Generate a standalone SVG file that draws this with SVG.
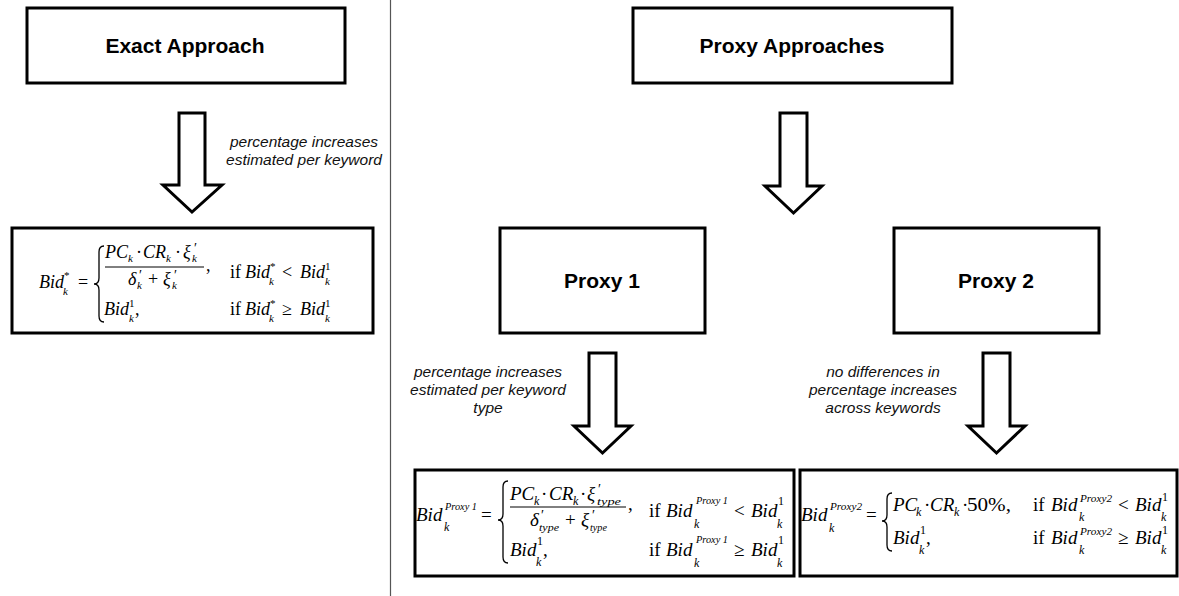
<svg xmlns="http://www.w3.org/2000/svg" width="1179" height="596" viewBox="0 0 1179 596">
  <style>
    .box { fill: #fff; stroke: #000; stroke-width: 3; }
    .arrow { fill: #fff; stroke: #000; stroke-width: 3; stroke-linejoin: miter; }
    .title { font-family: "Liberation Sans", Arial, sans-serif; font-weight: bold; font-size: 21px; text-anchor: middle; fill: #000; }
    .note { font-family: "Liberation Sans", Arial, sans-serif; font-style: italic; font-size: 15.5px; text-anchor: middle; fill: #111; }
    .m { font-family: "Liberation Serif", "Times New Roman", serif; font-size: 18px; fill: #000; }
    .m2 { font-family: "Liberation Serif", "Times New Roman", serif; font-size: 19px; fill: #000; }
    .i { font-style: italic; }
    .s { font-size: 11px; }
    .s2 { font-size: 12px; }
    .pr { font-size: 14px; }
    .brace { fill: none; stroke: #000; stroke-width: 1.3; }
    .bar { stroke: #000; stroke-width: 1; }
  </style>

  <!-- divider between the exact and proxy approaches -->
  <line x1="390.5" y1="0" x2="390.5" y2="596" stroke="#555" stroke-width="1.2"/>

  <g id="exact-approach">
    <rect class="box" x="27" y="8" width="318" height="75"/>
    <text class="title" x="185" y="53">Exact Approach</text>
  </g>

  <g id="proxy-approaches">
    <rect class="box" x="633" y="8" width="319" height="75"/>
    <text class="title" x="792" y="53">Proxy Approaches</text>
  </g>

  <g id="proxy-1">
    <rect class="box" x="500" y="228" width="205" height="105"/>
    <text class="title" x="602" y="288">Proxy 1</text>
  </g>

  <g id="proxy-2">
    <rect class="box" x="894" y="228" width="205" height="105"/>
    <text class="title" x="996" y="288">Proxy 2</text>
  </g>

  <!-- exact bid formula -->
  <g id="formula-exact">
    <rect class="box" x="12" y="228" width="361" height="105"/>
    <text class="m i" x="39" y="288">Bid</text>
    <text class="m s" x="64" y="279">*</text>
    <text class="m s i" x="63" y="295">k</text>
    <text class="m" x="78" y="288">=</text>
    <path class="brace" d="M104 246 Q99 246 99 252 L99 278 Q99 284 94 284 Q99 284 99 290 L99 316 Q99 322 104 322"/>
    <!-- numerator -->
    <text class="m i" x="105" y="258">PC</text>
    <text class="m s i" x="128" y="262">k</text>
    <text class="m" x="136" y="258">·</text>
    <text class="m i" x="143" y="258">CR</text>
    <text class="m s i" x="166" y="262">k</text>
    <text class="m" x="175" y="258">·</text>
    <text class="m i" x="183" y="258">ξ</text>
    <text class="m pr" x="194" y="253">′</text>
    <text class="m s i" x="192" y="262">k</text>
    <line class="bar" x1="105" y1="267" x2="204" y2="267"/>
    <!-- denominator -->
    <text class="m i" x="128" y="285">δ</text>
    <text class="m pr" x="139" y="280">′</text>
    <text class="m s i" x="137" y="289">k</text>
    <text class="m" x="148" y="285">+</text>
    <text class="m i" x="163" y="285">ξ</text>
    <text class="m pr" x="174" y="280">′</text>
    <text class="m s i" x="172" y="289">k</text>
    <text class="m" x="206" y="271">,</text>
    <!-- first case condition -->
    <text class="m" x="230" y="278">if</text>
    <text class="m i" x="245" y="278">Bid</text>
    <text class="m s" x="270" y="270">*</text>
    <text class="m s i" x="269" y="285">k</text>
    <text class="m" x="282" y="278">&lt;</text>
    <text class="m i" x="300" y="278">Bid</text>
    <text class="m s" x="325" y="270">1</text>
    <text class="m s i" x="325" y="285">k</text>
    <!-- second case -->
    <text class="m i" x="104" y="315">Bid</text>
    <text class="m s" x="129" y="307">1</text>
    <text class="m s i" x="129" y="322">k</text>
    <text class="m" x="135" y="315">,</text>
    <text class="m" x="230" y="315">if</text>
    <text class="m i" x="245" y="315">Bid</text>
    <text class="m s" x="270" y="307">*</text>
    <text class="m s i" x="269" y="322">k</text>
    <text class="m" x="282" y="315">≥</text>
    <text class="m i" x="300" y="315">Bid</text>
    <text class="m s" x="325" y="307">1</text>
    <text class="m s i" x="325" y="322">k</text>
  </g>

  <!-- proxy 1 bid formula -->
  <g id="formula-proxy-1">
    <rect class="box" x="415" y="470" width="379" height="106"/>
    <text class="m2 i" x="416" y="521">Bid</text>
    <text class="m s i" x="445" y="510" textLength="32" lengthAdjust="spacingAndGlyphs">Proxy 1</text>
    <text class="m s2 i" x="444" y="531">k</text>
    <text class="m2" x="481" y="521">=</text>
    <path class="brace" d="M508 481 Q503 481 503 487 L503 514 Q503 520 498 520 Q503 520 503 526 L503 557 Q503 563 508 563"/>
    <!-- numerator -->
    <text class="m2 i" x="510" y="500">PC</text>
    <text class="m s2 i" x="534" y="505">k</text>
    <text class="m2" x="541" y="500">·</text>
    <text class="m2 i" x="549" y="500">CR</text>
    <text class="m s2 i" x="573" y="505">k</text>
    <text class="m2" x="580" y="500">·</text>
    <text class="m2 i" x="587" y="500">ξ</text>
    <text class="m pr" x="598" y="494">′</text>
    <text class="m s i" x="597" y="505" textLength="24" lengthAdjust="spacingAndGlyphs">type</text>
    <line class="bar" x1="510" y1="507" x2="626" y2="507"/>
    <!-- denominator -->
    <text class="m2 i" x="530" y="526">δ</text>
    <text class="m pr" x="541" y="520">′</text>
    <text class="m s i" x="539" y="531" textLength="20" lengthAdjust="spacingAndGlyphs">type</text>
    <text class="m2" x="565" y="526">+</text>
    <text class="m2 i" x="581" y="526">ξ</text>
    <text class="m pr" x="592" y="520">′</text>
    <text class="m s i" x="590" y="531" textLength="17" lengthAdjust="spacingAndGlyphs">type</text>
    <text class="m2" x="628" y="510">,</text>
    <!-- first case condition -->
    <text class="m2" x="649" y="517">if</text>
    <text class="m2 i" x="666" y="517">Bid</text>
    <text class="m s i" x="696" y="504" textLength="32" lengthAdjust="spacingAndGlyphs">Proxy 1</text>
    <text class="m s2 i" x="694" y="528">k</text>
    <text class="m2" x="734" y="517">&lt;</text>
    <text class="m2 i" x="751" y="517">Bid</text>
    <text class="m s2" x="778" y="505">1</text>
    <text class="m s2 i" x="777" y="528">k</text>
    <!-- second case -->
    <text class="m2 i" x="510" y="556">Bid</text>
    <text class="m s2" x="537" y="545">1</text>
    <text class="m s2 i" x="536" y="566">k</text>
    <text class="m2" x="543" y="556">,</text>
    <text class="m2" x="649" y="556">if</text>
    <text class="m2 i" x="666" y="556">Bid</text>
    <text class="m s i" x="696" y="543" textLength="32" lengthAdjust="spacingAndGlyphs">Proxy 1</text>
    <text class="m s2 i" x="694" y="567">k</text>
    <text class="m2" x="734" y="556">≥</text>
    <text class="m2 i" x="751" y="556">Bid</text>
    <text class="m s2" x="778" y="544">1</text>
    <text class="m s2 i" x="777" y="567">k</text>
  </g>

  <!-- proxy 2 bid formula -->
  <g id="formula-proxy-2">
    <rect class="box" x="800" y="470" width="377" height="106"/>
    <text class="m2 i" x="801" y="521">Bid</text>
    <text class="m s i" x="830" y="510" textLength="32" lengthAdjust="spacingAndGlyphs">Proxy2</text>
    <text class="m s2 i" x="829" y="532">k</text>
    <text class="m2" x="866" y="521">=</text>
    <path class="brace" d="M892 493 Q887 493 887 499 L887 515 Q887 521 882 521 Q887 521 887 527 L887 545 Q887 551 892 551"/>
    <!-- first case -->
    <text class="m2 i" x="893" y="511">PC</text>
    <text class="m s2 i" x="916" y="516">k</text>
    <text class="m2" x="924" y="511">·</text>
    <text class="m2 i" x="930" y="511">CR</text>
    <text class="m s2 i" x="954" y="516">k</text>
    <text class="m2" x="962" y="511">·</text>
    <text class="m2" x="967" y="511" textLength="44" lengthAdjust="spacingAndGlyphs">50%,</text>
    <text class="m2" x="1033" y="511">if</text>
    <text class="m2 i" x="1051" y="511">Bid</text>
    <text class="m s i" x="1080" y="502" textLength="32" lengthAdjust="spacingAndGlyphs">Proxy2</text>
    <text class="m s2 i" x="1079" y="521">k</text>
    <text class="m2" x="1118" y="511">&lt;</text>
    <text class="m2 i" x="1135" y="511">Bid</text>
    <text class="m s2" x="1162" y="501">1</text>
    <text class="m s2 i" x="1161" y="521">k</text>
    <!-- second case -->
    <text class="m2 i" x="893" y="544">Bid</text>
    <text class="m s2" x="920" y="534">1</text>
    <text class="m s2 i" x="919" y="554">k</text>
    <text class="m2" x="926" y="544">,</text>
    <text class="m2" x="1033" y="544">if</text>
    <text class="m2 i" x="1051" y="544">Bid</text>
    <text class="m s i" x="1080" y="535" textLength="32" lengthAdjust="spacingAndGlyphs">Proxy2</text>
    <text class="m s2 i" x="1079" y="554">k</text>
    <text class="m2" x="1118" y="544">≥</text>
    <text class="m2 i" x="1135" y="544">Bid</text>
    <text class="m s2" x="1162" y="534">1</text>
    <text class="m s2 i" x="1161" y="554">k</text>
  </g>

  <!-- block arrows and their notes -->
  <g id="connectors">
    <polygon class="arrow" points="179,113 205,113 205,185 222,185 192,212 163,185 179,185"/>
    <text class="note" x="304" y="147">percentage increases</text>
    <text class="note" x="304" y="165">estimated per keyword</text>

    <polygon class="arrow" points="780,113 807,113 807,186 822,186 793.5,213 765,186 780,186"/>

    <polygon class="arrow" points="589,353 616,353 616,426 631,426 602.5,453 574,426 589,426"/>
    <text class="note" x="488" y="377">percentage increases</text>
    <text class="note" x="488" y="395">estimated per keyword</text>
    <text class="note" x="488" y="413">type</text>

    <polygon class="arrow" points="983,353 1010,353 1010,426 1025,426 996.5,453 968,426 983,426"/>
    <text class="note" x="883" y="377">no differences in</text>
    <text class="note" x="883" y="395">percentage increases</text>
    <text class="note" x="883" y="413">across keywords</text>
  </g>
</svg>
